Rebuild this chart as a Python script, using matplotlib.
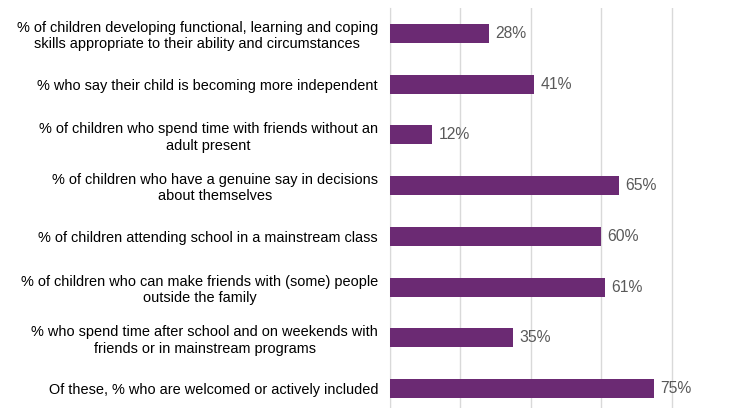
import numpy as np
import matplotlib.pyplot as plt

labels = [
    "% of children developing functional, learning and coping\nskills appropriate to their ability and circumstances",
    "% who say their child is becoming more independent",
    "% of children who spend time with friends without an\nadult present",
    "% of children who have a genuine say in decisions\nabout themselves",
    "% of children attending school in a mainstream class",
    "% of children who can make friends with (some) people\noutside the family",
    "% who spend time after school and on weekends with\nfriends or in mainstream programs",
    "Of these, % who are welcomed or actively included",
]
values = [28, 41, 12, 65, 60, 61, 35, 75]
grid_ticks = [0, 20, 40, 60, 80, 100]

plt.rcParams['font.family'] = ['Liberation Sans', 'DejaVu Sans']

fig = plt.figure(figsize=(7.38, 4.08), dpi=100)
ax = fig.add_axes([390 / 738, -6 / 408, 352 / 738, 406 / 408])

y = np.arange(len(values))
ax.barh(y, values, height=0.37, color='#6B2A73', zorder=3)

for yi, v in zip(y, values):
    ax.annotate(f"{v}%", (v, yi), xytext=(4.5, 0), textcoords='offset points',
                va='center', ha='left', fontsize=11.3, color='#595959')

ax.set_yticks(y)
ax.set_yticklabels(labels, fontsize=10.45, color='#000000', linespacing=1.2)
for t in ax.get_yticklabels():
    t.set_multialignment('center')
ax.tick_params(axis='y', length=0, pad=8.6)
ax.set_ylim(len(values) - 0.5, -0.5)

ax.set_xlim(0, 100)
ax.set_xticks(grid_ticks)
ax.tick_params(axis='x', length=0, labelbottom=False)
ax.grid(axis='x', color='#d9d9d9', linewidth=1, zorder=0)

for s in ['top', 'right', 'bottom']:
    ax.spines[s].set_visible(False)
ax.spines['left'].set_color('#d9d9d9')

fig.savefig('out.png', dpi=100)
